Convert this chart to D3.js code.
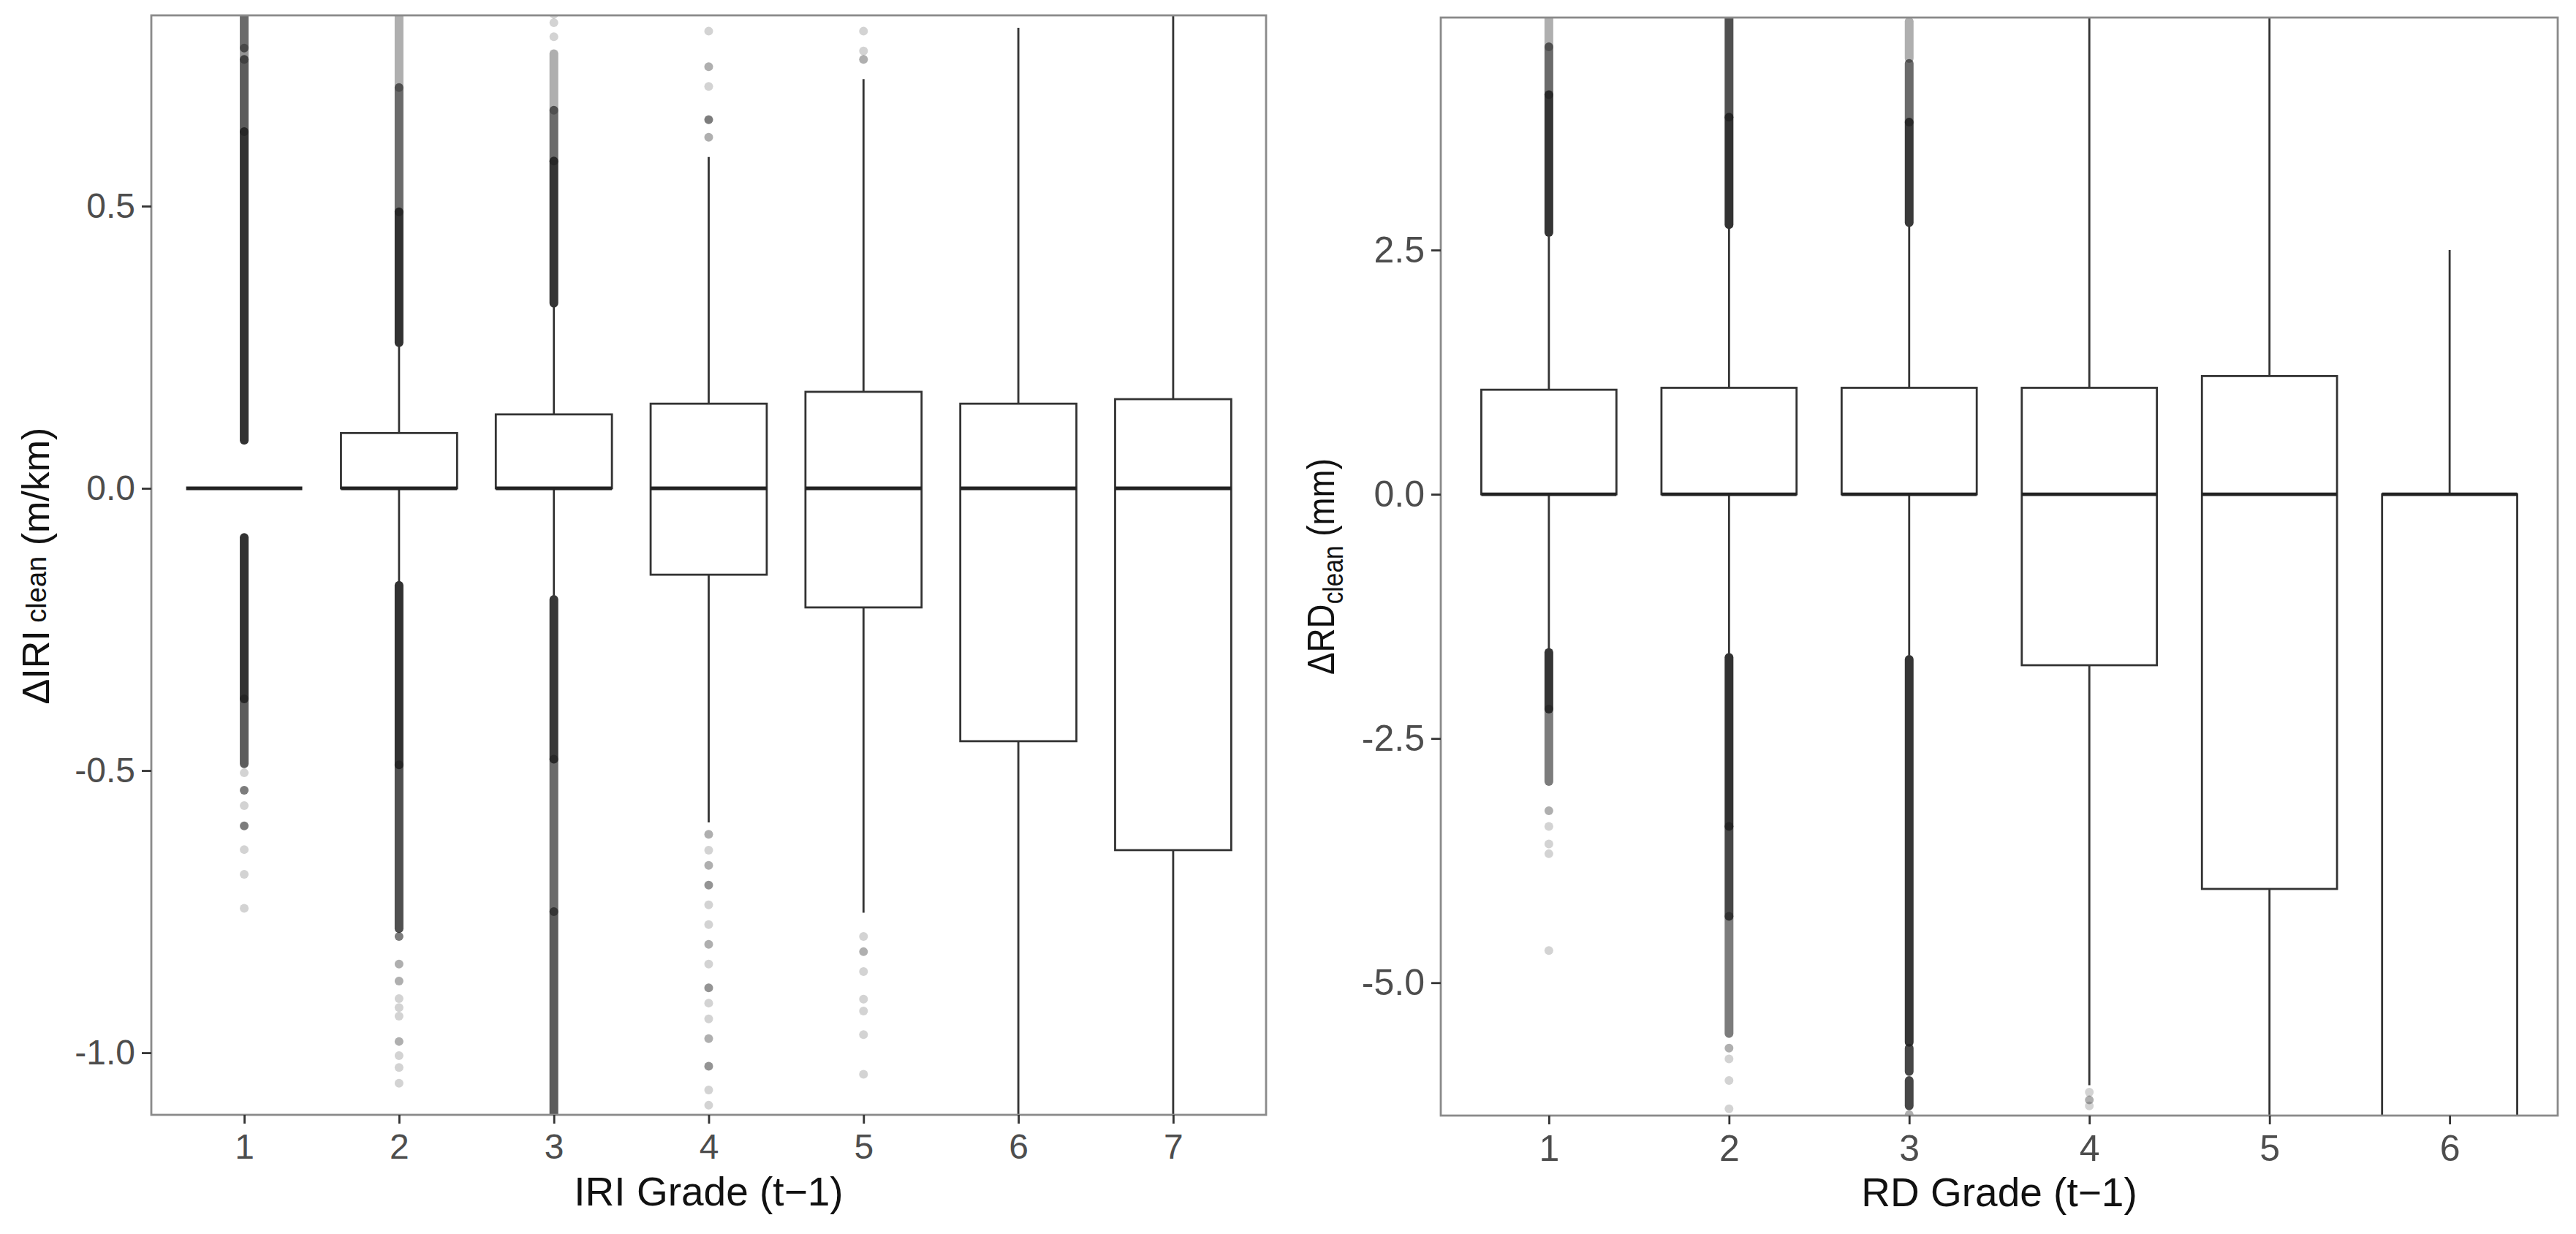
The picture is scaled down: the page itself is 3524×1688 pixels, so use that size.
<!DOCTYPE html>
<html>
<head>
<meta charset="utf-8">
<script src="https://cdn.jsdelivr.net/npm/d3@7/dist/d3.min.js"></script>
<style>
  html, body { margin: 0; padding: 0; background: #fff; }
  svg { display: block; font-family: "Liberation Sans", Arial, sans-serif; }
</style>
</head>
<body>
<svg id="chart" width="3524" height="1688"></svg>
<script>
// ---------------- DATA ----------------
// Left panel: ΔIRI_clean by IRI Grade (t-1)
const iriGrades = ["1", "2", "3", "4", "5", "6", "7"];
const iriQ1 = [0, 0, 0, -0.153, -0.211, -0.448, -0.641];
const iriMedian = [0, 0, 0, 0, 0, 0, 0];
const iriQ3 = [0, 0.098, 0.131, 0.150, 0.171, 0.150, 0.158];
const iriWhiskerLow = [0, -0.165, -0.19, -0.592, -0.752, -1.20, -1.20];
const iriWhiskerHigh = [0, 0.254, 0.324, 0.587, 0.725, 0.816, 0.90];
const iriTicks = [-1.0, -0.5, 0.0, 0.5];
// dense outlier runs: [grade, from, to, overlapping points]
const iriOutlierRuns = [
  ["1", 0.085, 0.632, 12], ["1", 0.632, 0.76, 6], ["1", 0.76, 0.78, 3], ["1", 0.78, 0.85, 5],
  ["1", -0.373, -0.087, 12], ["1", -0.488, -0.373, 6],
  ["2", 0.258, 0.49, 12], ["2", 0.49, 0.71, 5], ["2", 0.71, 0.85, 2],
  ["2", -0.49, -0.172, 12], ["2", -0.78, -0.49, 7],
  ["3", 0.328, 0.58, 11], ["3", 0.58, 0.67, 5], ["3", 0.67, 0.77, 2],
  ["3", -0.48, -0.197, 10], ["3", -0.75, -0.48, 5], ["3", -1.12, -0.75, 6]
];
// single outliers: [grade, value, overlapping points]
const iriOutlierPoints = [
  ["1", -0.504, 1], ["1", -0.535, 4], ["1", -0.562, 1], ["1", -0.598, 4], ["1", -0.64, 1], ["1", -0.684, 1], ["1", -0.744, 1],
  ["2", -0.794, 4], ["2", -0.843, 2], ["2", -0.873, 2], ["2", -0.904, 1], ["2", -0.92, 1], ["2", -0.935, 1],
  ["2", -0.98, 2], ["2", -1.005, 1], ["2", -1.026, 1], ["2", -1.054, 1],
  ["3", 0.80, 1], ["3", 0.825, 1], ["3", 0.84, 1],
  ["4", 0.81, 1], ["4", 0.747, 2], ["4", 0.712, 1], ["4", 0.653, 4], ["4", 0.622, 2],
  ["4", -0.613, 2], ["4", -0.641, 1], ["4", -0.668, 2], ["4", -0.703, 3], ["4", -0.738, 1], ["4", -0.773, 1],
  ["4", -0.808, 2], ["4", -0.843, 1], ["4", -0.885, 3], ["4", -0.912, 1], ["4", -0.94, 1], ["4", -0.975, 2],
  ["4", -1.024, 3], ["4", -1.066, 1], ["4", -1.093, 1],
  ["5", 0.81, 1], ["5", 0.775, 1], ["5", 0.76, 2],
  ["5", -0.794, 1], ["5", -0.821, 2], ["5", -0.856, 1], ["5", -0.905, 1], ["5", -0.926, 1], ["5", -0.968, 1], ["5", -1.038, 1]
];

// Right panel: ΔRD_clean by RD Grade (t-1)
const rdGrades = ["1", "2", "3", "4", "5", "6"];
const rdQ1 = [0, 0, 0, -1.75, -4.04, -7.0];
const rdMedian = [0, 0, 0, 0, 0, 0];
const rdQ3 = [1.07, 1.09, 1.09, 1.09, 1.21, 0];
const rdWhiskerLow = [-1.58, -1.63, -1.65, -6.05, -6.6, -7.0];
const rdWhiskerHigh = [2.64, 2.72, 2.74, 5.0, 5.0, 2.5];
const rdTicks = [-5.0, -2.5, 0.0, 2.5];
const rdOutlierRuns = [
  ["1", 2.68, 4.09, 11], ["1", 4.09, 4.58, 5], ["1", 4.58, 4.9, 2],
  ["1", -2.20, -1.62, 11], ["1", -2.94, -2.20, 4],
  ["2", 2.76, 3.86, 12], ["2", 3.86, 4.9, 7],
  ["2", -3.40, -1.67, 12], ["2", -4.32, -3.40, 8], ["2", -5.52, -4.32, 4],
  ["3", 2.78, 3.81, 10], ["3", 3.81, 4.41, 5], ["3", 4.46, 4.84, 2],
  ["3", -5.61, -1.69, 11], ["3", -5.91, -5.67, 8], ["3", -6.26, -6.0, 8]
];
const rdOutlierPoints = [
  ["1", -3.24, 2], ["1", -3.40, 1], ["1", -3.58, 1], ["1", -3.68, 1], ["1", -4.67, 1],
  ["2", -5.67, 2], ["2", -5.78, 1], ["2", -6.0, 1], ["2", -6.29, 1],
  ["3", -6.35, 2],
  ["4", -6.12, 1], ["4", -6.2, 2], ["4", -6.26, 1]
];

// ---------------- LAYOUT ----------------
const svg = d3.select("#chart");
const alphaOf = n => 1 - Math.pow(0.8, n);
const pointColor = "#222";

function drawPanel(p) {
  const g = svg.append("g");
  const x = d3.scalePoint().domain(p.grades).range([p.left, p.right]).padding(0.6);
  const y = d3.scaleLinear().domain(p.yDomain).range([p.bottom, p.top]);
  const bw = x.step() * 0.75;

  const clipId = "clip-" + p.id;
  svg.append("clipPath").attr("id", clipId)
    .append("rect").attr("x", p.left).attr("y", p.top)
    .attr("width", p.right - p.left).attr("height", p.bottom - p.top);

  const plot = g.append("g").attr("clip-path", `url(#${clipId})`);

  const boxes = p.grades.map((gr, i) => ({
    grade: gr, q1: p.q1[i], med: p.median[i], q3: p.q3[i], lo: p.wLow[i], hi: p.wHigh[i]
  }));

  // outliers (dense runs + single points)
  plot.selectAll("line.run").data(p.runs).join("line")
    .attr("class", "run")
    .attr("x1", d => x(d[0])).attr("x2", d => x(d[0]))
    .attr("y1", d => y(d[1])).attr("y2", d => y(d[2]))
    .attr("stroke", pointColor).attr("stroke-opacity", d => alphaOf(d[3]))
    .attr("stroke-width", 12).attr("stroke-linecap", "round");
  plot.selectAll("circle.out").data(p.points).join("circle")
    .attr("class", "out")
    .attr("cx", d => x(d[0])).attr("cy", d => y(d[1])).attr("r", 6)
    .attr("fill", pointColor).attr("fill-opacity", d => alphaOf(d[2]));

  // whiskers
  const wk = plot.selectAll("g.box").data(boxes).join("g").attr("class", "box");
  wk.append("line")
    .attr("x1", d => x(d.grade)).attr("x2", d => x(d.grade))
    .attr("y1", d => y(d.q3)).attr("y2", d => y(d.hi))
    .attr("stroke", "#333").attr("stroke-width", 2.8);
  wk.append("line")
    .attr("x1", d => x(d.grade)).attr("x2", d => x(d.grade))
    .attr("y1", d => y(d.q1)).attr("y2", d => y(d.lo))
    .attr("stroke", "#333").attr("stroke-width", 2.8);
  // boxes
  wk.append("rect")
    .attr("x", d => x(d.grade) - bw / 2).attr("width", bw)
    .attr("y", d => y(d.q3)).attr("height", d => Math.max(0, y(d.q1) - y(d.q3)))
    .attr("fill", "#fff").attr("stroke", "#333").attr("stroke-width", 2.8);
  // medians
  wk.append("line")
    .attr("x1", d => x(d.grade) - bw / 2).attr("x2", d => x(d.grade) + bw / 2)
    .attr("y1", d => y(d.med)).attr("y2", d => y(d.med))
    .attr("stroke", "#222").attr("stroke-width", 4.8);

  // panel border
  g.append("rect")
    .attr("x", p.left).attr("y", p.top)
    .attr("width", p.right - p.left).attr("height", p.bottom - p.top)
    .attr("fill", "none").attr("stroke", "#8a8a8a").attr("stroke-width", 2.8);

  // axes
  const ya = g.append("g").attr("transform", `translate(${p.left},0)`)
    .call(d3.axisLeft(y).tickValues(p.ticks).tickFormat(d => d.toFixed(1))
      .tickSize(13).tickPadding(9));
  ya.select(".domain").remove();
  ya.selectAll(".tick line").attr("stroke", "#333").attr("stroke-width", 2.8);
  ya.selectAll(".tick text").attr("fill", "#4d4d4d")
    .style("font-size", p.tickFont + "px").style("font-family", "'Liberation Sans', Arial, sans-serif");

  const xa = g.append("g").attr("transform", `translate(0,${p.bottom})`)
    .call(d3.axisBottom(x).tickSize(12).tickPadding(14));
  xa.select(".domain").remove();
  xa.selectAll(".tick line").attr("stroke", "#333").attr("stroke-width", 2.8);
  xa.selectAll(".tick text").attr("fill", "#4d4d4d")
    .style("font-size", p.tickFont + "px").style("font-family", "'Liberation Sans', Arial, sans-serif");

  // x title
  g.append("text")
    .attr("x", (p.left + p.right) / 2).attr("y", p.xTitleY)
    .attr("text-anchor", "middle").attr("fill", "#111")
    .style("font-size", "55px")
    .text(p.xTitle);

  // y title
  const yt = g.append("text")
    .attr("transform", `translate(${p.yTitleX},${p.yTitleY}) rotate(-90) scale(${p.yTitleSqueeze},1)`)
    .attr("text-anchor", "middle").attr("fill", "#111")
    .style("font-size", "52px");
  yt.append("tspan").text(p.yTitleMain);
  yt.append("tspan").attr("dy", p.subShift).style("font-size", "38px").text(p.yTitleSub);
  yt.append("tspan").attr("dy", -p.subShift).text(" " + p.yTitleUnit);
}

drawPanel({
  id: "iri", grades: iriGrades, q1: iriQ1, median: iriMedian, q3: iriQ3,
  wLow: iriWhiskerLow, wHigh: iriWhiskerHigh, runs: iriOutlierRuns, points: iriOutlierPoints,
  ticks: iriTicks, yDomain: [-1.110, 0.838],
  left: 207, right: 1732, top: 21, bottom: 1525, tickFont: 48,
  xTitle: "IRI Grade (t\u22121)", xTitleY: 1649,
  yTitleX: 67, yTitleY: 774, yTitleSqueeze: 1,
  yTitleMain: "\u0394IRI", yTitleSub: " clean", yTitleUnit: "(m/km)", subShift: -4
});

drawPanel({
  id: "rd", grades: rdGrades, q1: rdQ1, median: rdMedian, q3: rdQ3,
  wLow: rdWhiskerLow, wHigh: rdWhiskerHigh, runs: rdOutlierRuns, points: rdOutlierPoints,
  ticks: rdTicks, yDomain: [-6.36, 4.88],
  left: 1971, right: 3499, top: 24, bottom: 1526, tickFont: 50,
  xTitle: "RD Grade (t\u22121)", xTitleY: 1650,
  yTitleX: 1825, yTitleY: 775, yTitleSqueeze: 0.88,
  yTitleMain: "\u0394RD", yTitleSub: "clean", yTitleUnit: "(mm)", subShift: 12
});
</script>
</body>
</html>
